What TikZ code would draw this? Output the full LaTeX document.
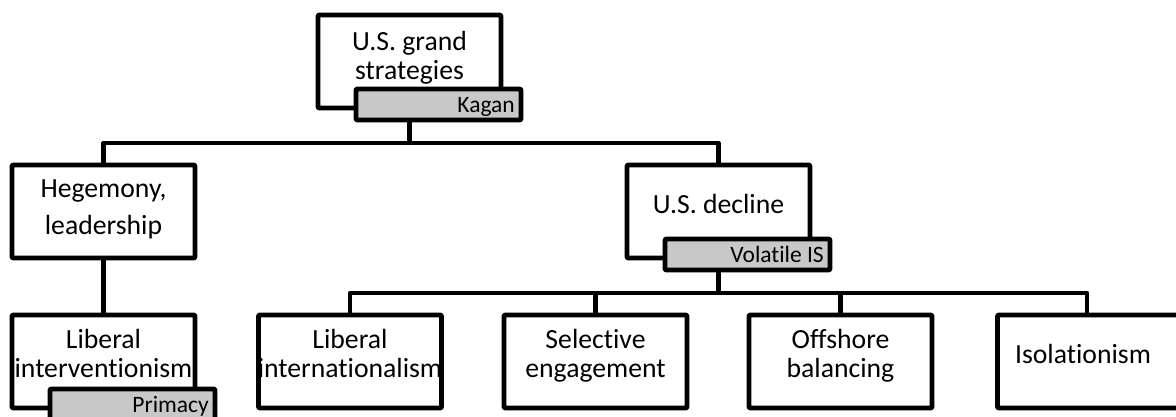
\documentclass[tikz,border=0pt]{standalone}
\usepackage{fontspec}
\setmainfont{Carlito}[Ligatures={NoCommon}]
\definecolor{tagfill}{RGB}{200,200,200}
\definecolor{inkc}{RGB}{0,0,0}
\tikzset{
  box/.style={draw=inkc, line width=4.8pt, line join=round, rounded corners=1pt, fill=white,
              minimum width=183pt, minimum height=93pt, inner sep=0pt},
  tagbox/.style={draw=inkc, line width=4.8pt, line join=round, rounded corners=1pt, fill=tagfill,
              minimum width=165pt, minimum height=31pt, inner sep=0pt},
  tagtxt/.style={font=\fontsize{23.5}{26}\selectfont, anchor=base east, inner sep=0pt, text=inkc},
  txt/.style={font=\fontsize{27.7}{29}\selectfont, align=center, inner sep=0pt, text=inkc},
  conn/.style={draw=inkc, line width=4.8pt, line join=round},
}
\begin{document}
\begin{tikzpicture}[x=1pt, y=-1pt]
\useasboundingbox (0,0) rectangle (1176,417);
\coordinate (bar1) at (0,143);
\coordinate (bar2) at (0,293);
% boxes
\node[box] (top) at (409.5,61.5) {};
\node[txt] (toptxt) at ([yshift=3.6pt]top.center) {U.S. grand\\strategies};
\node[tagbox] (kagan) at ([xshift=29pt,yshift=-43pt]top.center) {};
\node[tagtxt] (kagantxt) at ([xshift=76.5pt,yshift=-8pt]kagan.center) {Kagan};

\node[box] (heg) at (103.5,211.5) {};
\node[txt] (hegtxt) at ([yshift=2.5pt]heg.center) {Hegemony,\\[8pt]leadership};

\node[box] (dec) at (718.5,211.5) {};
\node[txt] (dectxt) at ([yshift=7.5pt]dec.center) {U.S. decline};
\node[tagbox] (vol) at ([xshift=29pt,yshift=-43pt]dec.center) {};
\node[tagtxt] (voltxt) at ([xshift=76.5pt,yshift=-7.5pt]vol.center) {Volatile IS};

\node[box] (libint) at (103.5,361.5) {};
\node[txt] (libinttxt) at ([yshift=8pt]libint.center) {Liberal\\interventionism};
\node[tagbox] (prim) at ([xshift=29pt,yshift=-43pt]libint.center) {};
\node[tagtxt] (primtxt) at ([xshift=76.5pt,yshift=-8pt]prim.center) {Primacy};

\node[box] (li) at (350,361.5) {};
\node[txt] (litxt) at ([yshift=8pt]li.center) {Liberal\\internationalism};
\node[box] (se) at (595.5,361.5) {};
\node[txt] (setxt) at ([yshift=5.3pt]se.center) {Selective\\engagement};
\node[box] (ob) at (840.5,361.5) {};
\node[txt] (obtxt) at ([yshift=5.3pt]ob.center) {Offshore\\balancing};
\node[box] (iso) at (1089,361.5) {};
\node[txt] (isotxt) at ([xshift=-6pt,yshift=7.5pt]iso.center) {Isolationism};

% connectors
\draw[conn] (top.center |- kagan.south) -- (top.center |- bar1) -| (heg.north);
\draw[conn] (top.center |- bar1) -| (dec.north);
\draw[conn] (heg.south) -- (libint.north);
\draw[conn] (dec.center |- vol.south) -- (dec.center |- bar2) -| (li.north);
\draw[conn] (dec.center |- bar2) -| (se.north);
\draw[conn] (dec.center |- bar2) -| (ob.north);
\draw[conn] (dec.center |- bar2) -| ([xshift=-2pt]iso.north);
\end{tikzpicture}
\end{document}
